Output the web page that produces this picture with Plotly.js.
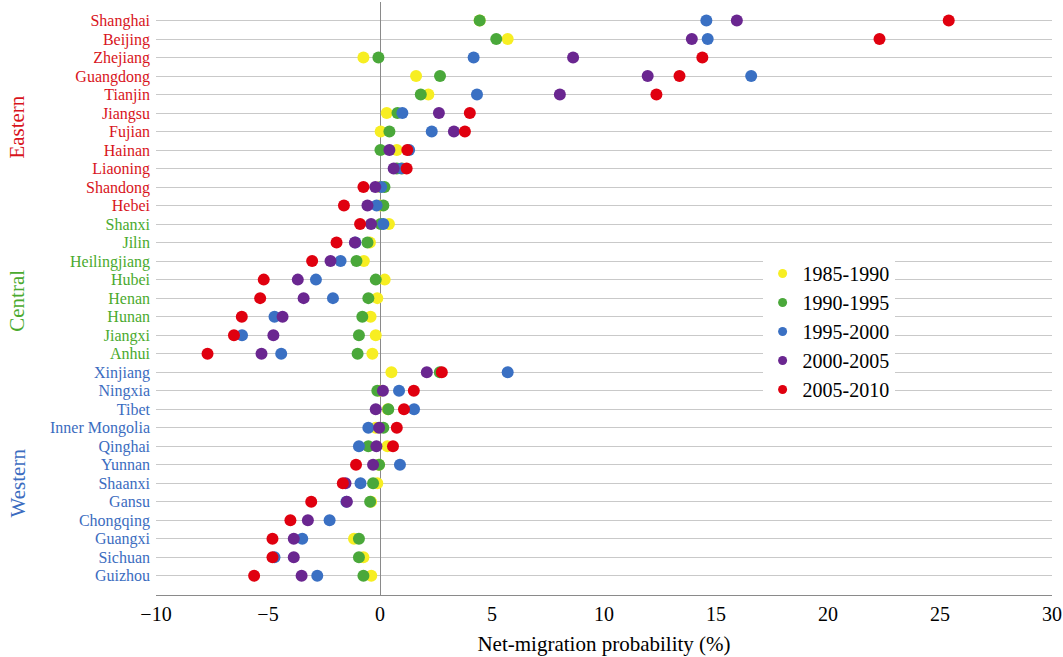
<!DOCTYPE html>
<html>
<head>
<meta charset="utf-8">
<script src="https://cdn.plot.ly/plotly-3.0.1.min.js"></script>
<style>html,body{margin:0;padding:0;background:#fff;}#chart{width:1063px;height:657px;}</style>
</head>
<body>
<div id="chart"></div>
<script>
// Provinces, top to bottom
const provinces = ["Shanghai","Beijing","Zhejiang","Guangdong","Tianjin","Jiangsu","Fujian","Hainan","Liaoning","Shandong","Hebei",
  "Shanxi","Jilin","Heilingjiang","Hubei","Henan","Hunan","Jiangxi","Anhui",
  "Xinjiang","Ningxia","Tibet","Inner Mongolia","Qinghai","Yunnan","Shaanxi","Gansu","Chongqing","Guangxi","Sichuan","Guizhou"];
const regions = ["Eastern","Eastern","Eastern","Eastern","Eastern","Eastern","Eastern","Eastern","Eastern","Eastern","Eastern",
  "Central","Central","Central","Central","Central","Central","Central","Central",
  "Western","Western","Western","Western","Western","Western","Western","Western","Western","Western","Western","Western"];
const periods = ["1985-1990","1990-1995","1995-2000","2000-2005","2005-2010"];

const p1985_1990 = [4.45,5.7,-0.74,1.61,2.16,0.30,0.03,0.75,1.0,0.0,0.0,
  0.40,-0.45,-0.72,0.21,-0.12,-0.42,-0.19,-0.34,
  0.51,0.0,0.35,-0.19,0.33,-0.05,-0.12,-0.4,null,-1.16,-0.74,-0.39];
const p1990_1995 = [4.45,5.19,-0.07,2.68,1.82,0.78,0.42,0.02,0.75,0.2,0.15,
  0.03,-0.56,-1.05,-0.19,-0.52,-0.79,-0.94,-1.0,
  2.67,-0.12,0.37,0.15,-0.52,-0.04,-0.31,-0.44,null,-0.94,-0.94,-0.74];
const p1995_2000 = [14.57,14.63,4.18,16.57,4.33,1.0,2.31,1.30,0.96,0.05,-0.15,
  0.15,-1.1,-1.76,-2.86,-2.10,-4.71,-6.16,-4.41,
  5.70,0.85,1.52,-0.52,-0.94,0.89,-0.87,-1.5,-2.25,-3.47,-4.71,-2.80];
const p2000_2005 = [15.93,13.92,8.62,11.95,8.03,2.63,3.30,0.42,0.61,-0.21,-0.56,
  -0.40,-1.12,-2.21,-3.67,-3.41,-4.35,-4.76,-5.29,
  2.09,0.13,-0.19,-0.04,-0.16,-0.31,-1.54,-1.48,-3.22,-3.85,-3.85,-3.5];
const p2005_2010 = [25.39,22.3,14.39,13.37,12.34,4.01,3.79,1.22,1.19,-0.74,-1.61,
  -0.89,-1.94,-3.03,-5.19,-5.35,-6.17,-6.52,-7.70,
  2.76,1.51,1.07,0.75,0.58,-1.07,-1.66,-3.07,-4.0,-4.80,-4.80,-5.62];

const seriesValues = [p1985_1990,p1990_1995,p1995_2000,p2000_2005,p2005_2010];
const dotColors = ["#f7ee22","#4aa83a","#3a70c3","#6a2690","#e0000f"];
const regionColors = {Eastern:"#d8141c", Central:"#4aaa2e", Western:"#3b6cc0"};
const regionLabelPos = {Eastern:0.789, Central:0.497, Western:0.189};

const FONT = "Liberation Serif, Times New Roman, serif";
const bottomUp = provinces.slice().reverse();

const traces = [];
seriesValues.forEach((vals, i) => {
  traces.push({
    type: "scatter", mode: "markers",
    x: vals, y: provinces,
    name: periods[i], showlegend: false,
    marker: {color: dotColors[i], size: 12},
    hoverinfo: "x+y+name"
  });
});
// legend entries (smaller symbols)
periods.forEach((p, i) => {
  traces.push({
    type: "scatter", mode: "markers",
    x: [null], y: [null],
    name: p, showlegend: true,
    marker: {color: dotColors[i], size: 9}
  });
});

const tickText = provinces.map((p, i) =>
  '<span style="color:' + regionColors[regions[i]] + '">' + p + '</span>');

const annotations = Object.keys(regionLabelPos).map(r => ({
  xref: "paper", yref: "paper",
  x: -0.1546, y: regionLabelPos[r],
  text: r, showarrow: false, textangle: -90,
  font: {family: FONT, size: 21, color: regionColors[r]},
  xanchor: "center", yanchor: "middle"
}));

const layout = {
  width: 1063, height: 657,
  margin: {l: 156, r: 11, t: 2, b: 62},
  paper_bgcolor: "#fff", plot_bgcolor: "#fff",
  font: {family: FONT, size: 16, color: "#000"},
  showlegend: true,
  legend: {
    x: 0.677, y: 0.575, xanchor: "left", yanchor: "top",
    bgcolor: "#ffffff", borderwidth: 0,
    font: {family: FONT, size: 20, color: "#000"},
    traceorder: "normal"
  },
  xaxis: {
    range: [-10, 30], dtick: 5, tick0: 0,
    showgrid: false,
    zeroline: true, zerolinecolor: "#8a8a8a", zerolinewidth: 1,
    showline: true, linecolor: "#8a8a8a", linewidth: 1,
    ticks: "", ticklabelstandoff: 1,
    tickfont: {family: FONT, size: 20, color: "#000"},
    title: {text: "Net-migration probability (%)", font: {family: FONT, size: 21, color: "#000"}, standoff: 12}
  },
  yaxis: {
    type: "category", categoryorder: "array", categoryarray: bottomUp,
    range: [-1.04, 31],
    tickmode: "array", tickvals: provinces, ticktext: tickText,
    showgrid: true, gridcolor: "#c9c9c9", gridwidth: 1,
    zeroline: false, showline: false,
    ticks: "", ticklabelstandoff: 5,
    tickfont: {family: FONT, size: 16}
  },
  annotations: annotations
};

Plotly.newPlot("chart", traces, layout, {displayModeBar: false, staticPlot: true});
</script>
</body>
</html>
